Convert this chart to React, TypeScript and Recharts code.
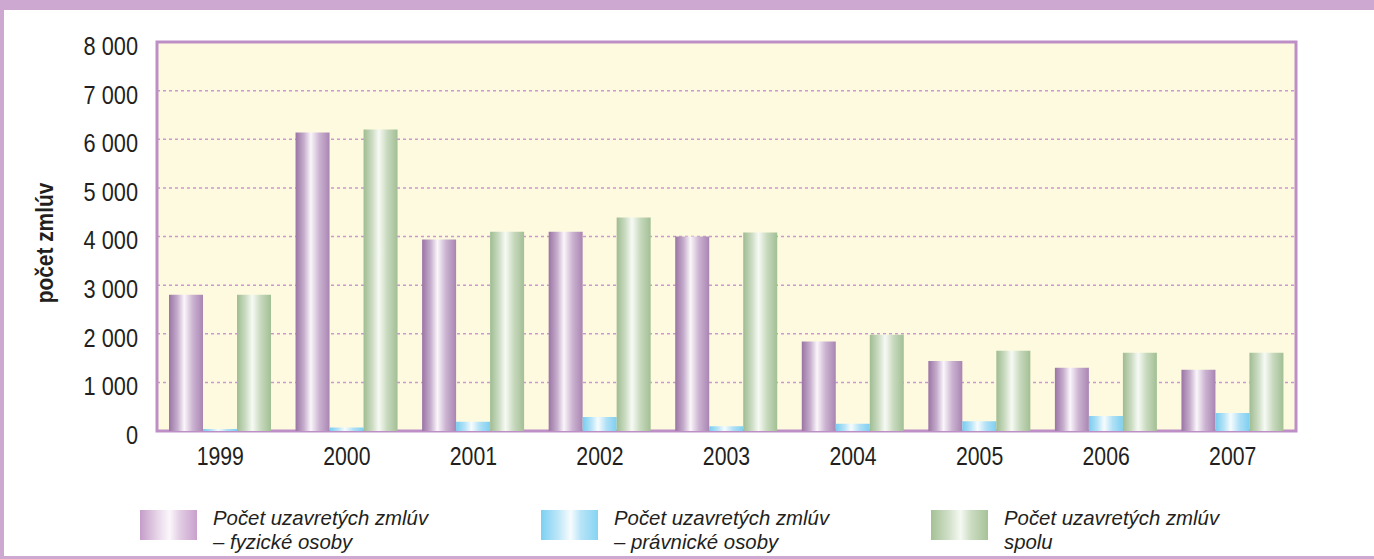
import React from 'react';
import { BarChart, Bar, XAxis, YAxis, CartesianGrid, ReferenceArea } from 'recharts';

const years = ['1999', '2000', '2001', '2002', '2003', '2004', '2005', '2006', '2007'];
const fyzicke = [2800, 6140, 3940, 4100, 4000, 1840, 1440, 1300, 1260];
const pravnicke = [40, 70, 190, 290, 100, 150, 200, 310, 370];
const spolu = [2800, 6200, 4100, 4390, 4080, 1980, 1650, 1610, 1610];
const yTicks = [0, 1000, 2000, 3000, 4000, 5000, 6000, 7000, 8000];
const legendLabels = [
  ['Počet uzavretých zmlúv', '– fyzické osoby'],
  ['Počet uzavretých zmlúv', '– právnické osoby'],
  ['Počet uzavretých zmlúv', 'spolu'],
];
const yLabel = 'počet zmlúv';

const data = years.map((y, i) => ({ year: y, f: fyzicke[i], p: pravnicke[i], s: spolu[i] }));

const FONT = "'Liberation Sans', Arial, sans-serif";
const FRAME = '#CDA9D1';
const PLOT_BORDER = '#BE8FC6';
const TXT = '#231F20';

const fmt = (v: number) => (v >= 1000 ? `${Math.floor(v / 1000)} ${String(v % 1000).padStart(3, '0')}` : String(v));

const YTick = (props: any) => {
  const { x, y, payload } = props;
  return (
    <text
      transform={`translate(${x} ${y + 4}) scale(0.87 1)`}
      x={0}
      y={0}
      dy="0.355em"
      textAnchor="end"
      fontSize={25}
      fill={TXT}
      fontFamily={FONT}
    >
      {fmt(payload.value)}
    </text>
  );
};

const XTick = (props: any) => {
  const { x, y, payload } = props;
  return (
    <text
      transform={`translate(${x} ${y}) scale(0.85 1)`}
      x={0}
      y={0}
      dy="0.71em"
      textAnchor="middle"
      fontSize={25}
      fill={TXT}
      fontFamily={FONT}
    >
      {payload.value}
    </text>
  );
};

const swatchGrads = [
  'linear-gradient(to right, #C49CC8 0%, #E6D4E8 30%, #FBF7FB 52%, #E2CDE4 70%, #C8A0CC 100%)',
  'linear-gradient(to right, #7CD0F2 0%, #BCE6F8 30%, #F7FCFE 52%, #B8E4F7 70%, #86D4F2 100%)',
  'linear-gradient(to right, #A4C196 0%, #CFDEC6 30%, #F6F9F3 52%, #CCDCC2 70%, #A6C398 100%)',
];
const legendX = [140, 541, 931];

export default function App() {
  return (
    <div style={{ position: 'absolute', left: 0, top: 0, width: 1374, height: 559, background: '#fff', overflow: 'hidden' }}>
      <div style={{ position: 'absolute', left: 0, top: 0, width: 1374, height: 10, background: FRAME }} />
      <div style={{ position: 'absolute', left: 0, top: 0, width: 4, height: 559, background: FRAME }} />
      <div style={{ position: 'absolute', left: 0, top: 556, width: 1374, height: 3, background: FRAME }} />
      <div style={{ position: 'absolute', left: 0, top: 0 }}>
        <BarChart
          width={1374}
          height={559}
          data={data}
          margin={{ top: 42, right: 78, left: 0, bottom: 98 }}
          barGap={0}
          barCategoryGap="10%"
        >
          <defs>
            <linearGradient id="gPurple" x1="0" y1="0" x2="1" y2="0">
              <stop offset="0%" stopColor="#9A74A4" />
              <stop offset="25%" stopColor="#C6AECD" />
              <stop offset="45%" stopColor="#FAF6FA" />
              <stop offset="70%" stopColor="#CBB3D1" />
              <stop offset="100%" stopColor="#A985B2" />
            </linearGradient>
            <linearGradient id="gBlue" x1="0" y1="0" x2="1" y2="0">
              <stop offset="0%" stopColor="#78CCF0" />
              <stop offset="25%" stopColor="#B4E3F7" />
              <stop offset="45%" stopColor="#F6FCFE" />
              <stop offset="70%" stopColor="#B0E0F6" />
              <stop offset="100%" stopColor="#7ECFF1" />
            </linearGradient>
            <linearGradient id="gGreen" x1="0" y1="0" x2="1" y2="0">
              <stop offset="0%" stopColor="#9FBC92" />
              <stop offset="25%" stopColor="#CADBC1" />
              <stop offset="45%" stopColor="#F7FAF4" />
              <stop offset="70%" stopColor="#C7D9BD" />
              <stop offset="100%" stopColor="#A2BF95" />
            </linearGradient>
          </defs>
          <CartesianGrid
            vertical={false}
            fill="#FEFADF"
            stroke="#C999CF"
            strokeDasharray="3 3"
            strokeWidth={1.5}
          />
          <XAxis
            dataKey="year"
            height={30}
            tickSize={0}
            tickMargin={16}
            axisLine={false}
            tickLine={false}
            tick={<XTick />}
            interval={0}
          />
          <YAxis
            width={157}
            domain={[0, 8000]}
            ticks={yTicks}
            tickSize={0}
            tickMargin={19}
            axisLine={false}
            tickLine={false}
            tick={<YTick />}
            interval={0}
          />
          <Bar dataKey="f" barSize={34} fill="url(#gPurple)" isAnimationActive={false} />
          <Bar dataKey="p" barSize={34} fill="url(#gBlue)" isAnimationActive={false} />
          <Bar dataKey="s" barSize={34} fill="url(#gGreen)" isAnimationActive={false} />
          <ReferenceArea y1={0} y2={8000} fill="none" stroke={PLOT_BORDER} strokeWidth={3} ifOverflow="visible" />
        </BarChart>
      </div>
      <div
        style={{
          position: 'absolute',
          left: 45,
          top: 243,
          transform: 'translate(-50%, -50%) rotate(-90deg) scale(0.87, 1)',
          fontFamily: FONT,
          fontWeight: 'bold',
          fontSize: 24,
          color: TXT,
          whiteSpace: 'nowrap',
          lineHeight: '24px',
        }}
      >
        {yLabel}
      </div>
      {legendLabels.map((lines, i) => (
        <React.Fragment key={i}>
          <div
            style={{
              position: 'absolute',
              left: legendX[i],
              top: 510,
              width: 57,
              height: 30,
              background: swatchGrads[i],
            }}
          />
          <div
            style={{
              position: 'absolute',
              left: legendX[i] + 73,
              top: 506,
              fontFamily: FONT,
              fontStyle: 'italic',
              fontSize: 21,
              lineHeight: '24px',
              color: TXT,
              whiteSpace: 'nowrap',
              transform: 'scale(0.97, 1)',
              transformOrigin: 'left top',
            }}
          >
            <div>{lines[0]}</div>
            <div>{lines[1]}</div>
          </div>
        </React.Fragment>
      ))}
    </div>
  );
}
